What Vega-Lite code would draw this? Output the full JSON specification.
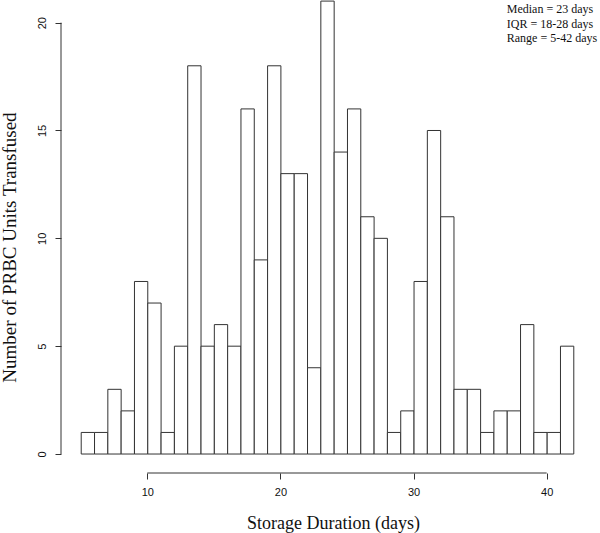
{
  "$schema": "https://vega.github.io/schema/vega-lite/v6.json",
  "width": 532,
  "height": 473,
  "autosize": {"type": "none"},
  "padding": {"left": 61, "top": 0, "right": 7, "bottom": 60},
  "background": "white",
  "config": {
    "view": {"stroke": null},
    "axis": {
      "grid": false,
      "domain": false,
      "tickColor": "#333",
      "tickSize": 6,
      "labelColor": "#111",
      "labelFont": "Liberation Sans",
      "labelFontSize": 11,
      "titleFont": "Liberation Serif",
      "titleFontWeight": "normal",
      "titleColor": "#111"
    }
  },
  "datasets": {
    "hist": [
      {"day": 5, "count": 1}, {"day": 6, "count": 1}, {"day": 7, "count": 3}, {"day": 8, "count": 2},
      {"day": 9, "count": 8}, {"day": 10, "count": 7}, {"day": 11, "count": 1}, {"day": 12, "count": 5},
      {"day": 13, "count": 18}, {"day": 14, "count": 5}, {"day": 15, "count": 6}, {"day": 16, "count": 5},
      {"day": 17, "count": 16}, {"day": 18, "count": 9}, {"day": 19, "count": 18}, {"day": 20, "count": 13},
      {"day": 21, "count": 13}, {"day": 22, "count": 4}, {"day": 23, "count": 21}, {"day": 24, "count": 14},
      {"day": 25, "count": 16}, {"day": 26, "count": 11}, {"day": 27, "count": 10}, {"day": 28, "count": 1},
      {"day": 29, "count": 2}, {"day": 30, "count": 8}, {"day": 31, "count": 15}, {"day": 32, "count": 11},
      {"day": 33, "count": 3}, {"day": 34, "count": 3}, {"day": 35, "count": 1}, {"day": 36, "count": 2},
      {"day": 37, "count": 2}, {"day": 38, "count": 6}, {"day": 39, "count": 1}, {"day": 40, "count": 1},
      {"day": 41, "count": 5}
    ]
  },
  "layer": [
    {
      "data": {"name": "hist"},
      "mark": {"type": "bar", "fill": "white", "stroke": "#333", "strokeWidth": 1, "binSpacing": 0},
      "encoding": {
        "x": {
          "field": "day",
          "type": "quantitative",
          "bin": {"step": 1, "extent": [5, 42]},
          "scale": {"domain": [3.52, 43.48], "nice": false, "zero": false},
          "axis": {
            "values": [10, 20, 30, 40],
            "format": "d",
            "labelAngle": 0,
            "labelPadding": 7,
            "title": "Storage Duration (days)",
            "titleFontSize": 18,
            "titlePadding": 17,
            "titleX": 272
          }
        },
        "y": {
          "field": "count",
          "aggregate": "sum",
          "type": "quantitative",
          "scale": {"domain": [-0.88, 21.05], "nice": false, "zero": false},
          "axis": {
            "values": [0, 5, 10, 15, 20],
            "labelAngle": -90,
            "labelAlign": "center",
            "labelBaseline": "bottom",
            "labelPadding": 8,
            "title": "Number of PRBC Units Transfused",
            "titleFontSize": 19,
            "titlePadding": 17,
            "titleY": 247
          }
        }
      }
    },
    {
      "data": {"values": [{}]},
      "mark": {"type": "rule", "stroke": "#333", "strokeWidth": 1},
      "encoding": {
        "x": {"datum": 10},
        "x2": {"datum": 40},
        "y": {"datum": -0.88}
      }
    },
    {
      "data": {"values": [{}]},
      "mark": {"type": "rule", "stroke": "#333", "strokeWidth": 1},
      "encoding": {
        "x": {"datum": 3.52},
        "y": {"datum": 0},
        "y2": {"datum": 20}
      }
    },
    {
      "data": {"values": [{"note": "Median = 23 days\nIQR = 18-28 days\nRange = 5-42 days"}]},
      "mark": {
        "type": "text",
        "align": "left",
        "baseline": "top",
        "lineBreak": "\n",
        "lineHeight": 14.5,
        "font": "Liberation Serif",
        "fontSize": 12,
        "color": "#111"
      },
      "encoding": {
        "text": {"field": "note"},
        "x": {"datum": 37},
        "y": {"datum": 20.86}
      }
    }
  ]
}
